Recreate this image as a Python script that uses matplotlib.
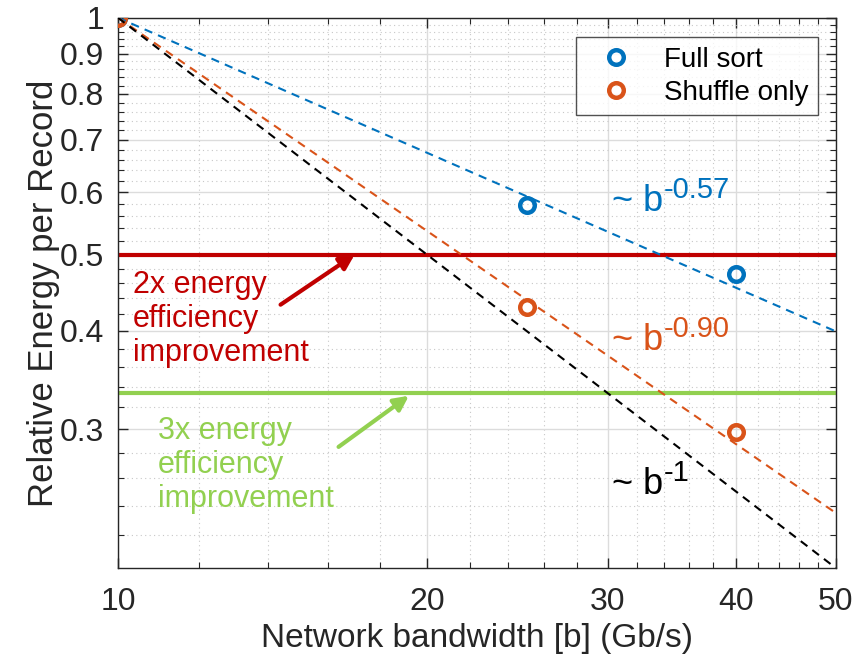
import numpy as np
import matplotlib
matplotlib.use('Agg')
import matplotlib.pyplot as plt
from matplotlib.ticker import FixedLocator, NullFormatter

plt.rcParams['font.family'] = ['Liberation Sans', 'DejaVu Sans']

# measured points (relative energy per record vs network bandwidth)
bandwidth = [10, 25, 40]
full_sort = [1.0, 0.578, 0.473]
shuffle_only = [1.0, 0.429, 0.298]

# power-law fits ~ b^k, normalised at b = 10
fit_x = [10, 50]
fit_exps = [-0.57, -0.90, -1.0]
fit_labels = ['-0.57', '-0.90', '-1']

blue = '#0072BD'
orange = '#D95319'
red = '#C00000'
green = '#92D050'
axcol = '#262626'

fig = plt.figure(figsize=(8.67, 6.63), dpi=100)
ax = fig.add_axes([0.136, 0.1433, 0.828, 0.830])
ax.set_xscale('log')
ax.set_yscale('log')

mk = dict(marker='o', linestyle='none', markersize=10.5, markeredgewidth=3.2,
          markerfacecolor='none')
ax.plot(bandwidth, full_sort, color=blue, label='Full sort', zorder=3, **mk)
ax.plot(bandwidth, shuffle_only, color=orange, label='Shuffle only', zorder=3, **mk)

fx = np.array(fit_x, dtype=float)
for k, c in zip(fit_exps, [blue, orange, 'black']):
    ax.plot(fx, (fx / 10.0) ** k, '--', color=c, lw=1.5, dashes=(4, 3), zorder=4)

# reference lines: 2x and 3x improvement
ax.axhline(0.5, color=red, lw=3, zorder=2)
ax.axhline(1 / 3, color=green, lw=3, zorder=2)

ax.annotate('', xy=(17.0, 0.5), xytext=(14.4, 0.432),
            arrowprops=dict(arrowstyle='-|>', color=red, lw=3,
                            mutation_scale=22, shrinkA=0, shrinkB=0))
ax.annotate('', xy=(19.2, 0.331), xytext=(16.4, 0.285),
            arrowprops=dict(arrowstyle='-|>', color=green, lw=3,
                            mutation_scale=22, shrinkA=0, shrinkB=0))

ax.text(10.34, 0.478, '2x energy\nefficiency\nimprovement', color=red,
        fontsize=22, va='top', ha='left', linespacing=1.17)
ax.text(10.94, 0.312, '3x energy\nefficiency\nimprovement', color=green,
        fontsize=22, va='top', ha='left', linespacing=1.17)

# "~ b" with a large superscript exponent
fit_pos = [(30.3, 0.568), (30.3, 0.378), (30.3, 0.248)]
for (tx, ty), lab, c in zip(fit_pos, fit_labels, [blue, orange, 'black']):
    t = ax.text(tx, ty, '~ b', color=c, fontsize=26, va='baseline', ha='left')
    ax.annotate(lab, xy=(1, 1), xycoords=t, xytext=(0.5, -4),
                textcoords='offset points', color=c, fontsize=21,
                va='center', ha='left')

ax.set_xlim(10, 50)
ax.set_ylim(0.2, 1.0)

xt = [10, 20, 30, 40, 50]
ax.xaxis.set_major_locator(FixedLocator(xt))
ax.set_xticklabels([str(v) for v in xt])
ax.xaxis.set_minor_locator(FixedLocator([v for v in range(12, 50, 2) if v % 10]))
ax.xaxis.set_minor_formatter(NullFormatter())

yt = [0.3, 0.4, 0.5, 0.6, 0.7, 0.8, 0.9, 1.0]
ax.yaxis.set_major_locator(FixedLocator(yt))
ax.set_yticklabels(['0.3', '0.4', '0.5', '0.6', '0.7', '0.8', '0.9', '1'])
ymin = [round(v, 2) for v in np.arange(0.2, 1.0, 0.02)]
ax.yaxis.set_minor_locator(FixedLocator([v for v in ymin if round(v * 10, 6) % 1]))
ax.yaxis.set_minor_formatter(NullFormatter())

ax.grid(True, which='major', color='#dcdcdc', lw=1)
ax.grid(True, which='minor', color='#c8c8c8', lw=0.8, linestyle=(0, (1, 3)))
ax.set_axisbelow(True)

ax.tick_params(which='both', direction='in', top=True, right=True, colors=axcol,
               labelsize=23)
ax.tick_params(which='major', length=7, width=1, pad=10)
ax.tick_params(which='minor', length=4, width=0.8)
ax.tick_params(axis='x', which='major', pad=14)
for s in ax.spines.values():
    s.set_color(axcol)
    s.set_linewidth(1)

ax.set_xlabel('Network bandwidth [b] (Gb/s)', fontsize=24, color=axcol, labelpad=4)
ax.set_ylabel('Relative Energy per Record', fontsize=25, color=axcol, labelpad=0)

leg = ax.legend(loc='upper right', fontsize=20, frameon=True, fancybox=False,
                edgecolor=axcol, borderpad=0.35, handletextpad=0.6,
                labelspacing=0.25, borderaxespad=0,
                bbox_to_anchor=(0.975, 0.965), handlelength=2.2)
leg.get_frame().set_linewidth(1)

fig.savefig('out.png', dpi=100)
